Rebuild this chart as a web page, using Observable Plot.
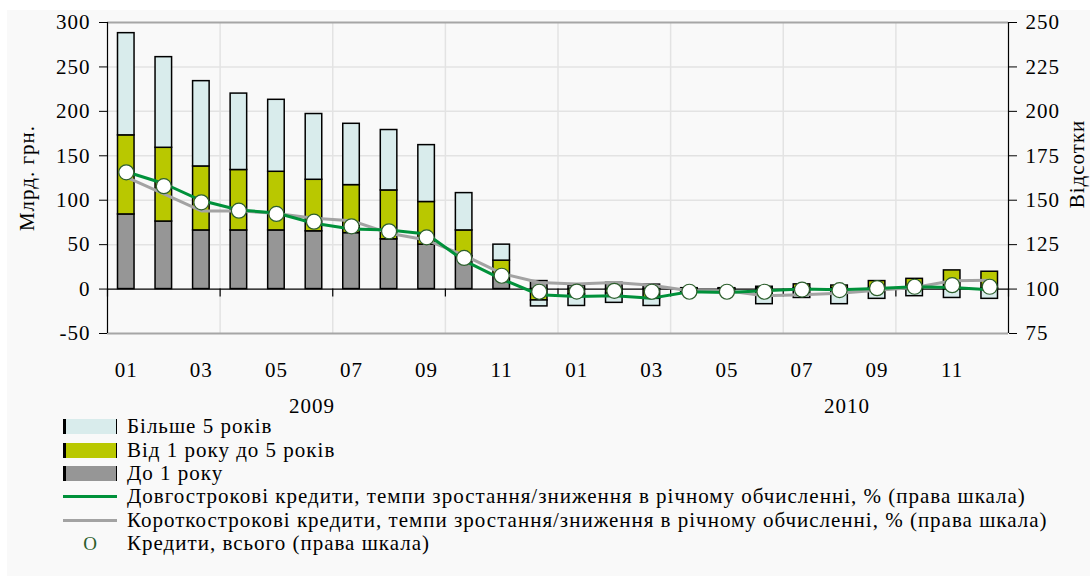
<!DOCTYPE html>
<html><head><meta charset="utf-8">
<script src="https://cdn.jsdelivr.net/npm/d3@7"></script>
<script src="https://cdn.jsdelivr.net/npm/@observablehq/plot@0.6"></script>
<style>
body{margin:0;background:#fff;font-family:"Liberation Serif","Times New Roman",serif;}
#wrap{position:absolute;left:7px;top:10px;width:1083px;height:566px;background:#f9f9f9;overflow:hidden;}
#chart{position:absolute;left:0;top:0;}
#legend{position:absolute;left:56px;top:405px;font-size:21px;letter-spacing:1px;color:#000;}
.row{display:flex;align-items:center;height:23.4px;white-space:nowrap;}
.sw{width:54px;height:23.4px;display:flex;align-items:center;justify-content:center;margin-right:10px;flex:none;}
.box{box-sizing:border-box;width:54px;height:15px;border-left:3px solid #000;border-right:1.5px solid #000;}
.ln{width:54px;height:3px;}
.o{display:block;width:54px;text-align:center;color:#2d5f2d;font-size:19px;letter-spacing:0;}
</style></head><body><div id="wrap"><div id="chart"></div><div id="legend"></div></div>
<script>
const months = ["01","02","03","04","05","06","07","08","09","10","11","12","01","02","03","04","05","06","07","08","09","10","11","12"];
const years = ["2009","2010"];
const seriesNames = ["До 1 року","Від 1 року до 5 років","Більше 5 років"];
const seriesColors = ["#969696","#b9c800","#d9ecec"];
// bars, bln UAH (left scale)
const upTo1 = [84,76,66,66,66,65,63,56,50,37,15,9,4,7,5,1,0.5,1,1,1,1,1,1,1];
const y1to5 = [89,83,72,68,66,58,54,55,48,29,17,-12.8,-6,-5,-11,-1,0.5,1.6,4.3,3,8,10.5,20,18.5];
const over5 = [115,102,96,86,81,74,69,68,64,42,18,-6.7,-13,-10.5,-8,-3,-2,-17,-10,-17,-11,-8,-10,-11];
// lines, % (right scale)
const longTerm  = [166,159.4,149.8,144.5,142.8,137,133.8,133.2,131,116,105.6,96.8,95.8,96.2,94.9,98.5,98.1,99,100,99.6,100.3,101.3,100.9,99.6];
const shortTerm = [163,153.6,144,144,142.6,139.8,138.5,131.4,127.6,119,108.8,103.7,102.8,103.7,102.2,99,99,96.2,96.8,97.7,99.4,100.9,104.7,105];
const total     = [165.7,157.9,148.8,144.1,142.3,137.9,135.3,132.5,129.1,117.5,107.5,98.5,98.6,99,98.5,98.5,98.5,98.5,99.7,99.4,100.5,101.3,102.2,101.3];
const leftTicks = [-50,0,50,100,150,200,250,300];
const rightTicks = [75,100,125,150,175,200,225,250];
const legendLabels = ["Більше 5 років","Від 1 року до 5 років","До 1 року",
  "Довгострокові кредити, темпи зростання/зниження в річному обчисленні, % (права шкала)",
  "Короткострокові кредити, темпи зростання/зниження в річному обчисленні, % (права шкала)",
  "Кредити, всього (права шкала)"];

const toLeft = v => (v - 100) * 2; // right scale 75–250 onto left scale -50–300

const rows = [];
months.forEach((m, i) => {
  [upTo1, y1to5, over5].forEach((arr, k) => rows.push({i, series: seriesNames[k], value: arr[i]}));
});
const pts = months.map((m, i) => ({i, long: longTerm[i], short: shortTerm[i], total: total[i]}));
const yearX = [5.45, 19.7];

const chart = Plot.plot({
  width: 1083, height: 412,
  marginLeft: 100, marginRight: 82, marginTop: 12, marginBottom: 89,
  x: {type: "linear", domain: [0, 24], axis: null},
  y: {domain: [-50, 300], axis: null},
  color: {domain: seriesNames, range: seriesColors},
  style: {fontFamily: "'Liberation Serif','Times New Roman',serif", fontSize: "21px", letterSpacing: "1px", background: "transparent", color: "#000", overflow: "visible"},
  marks: [
    Plot.ruleY([50, 100, 150, 200, 250], {stroke: "#e3e3e3", strokeWidth: 1.5}),
    Plot.ruleX(d3.range(3, 24, 3), {stroke: "#e3e3e3", strokeWidth: 1.5}),
    Plot.ruleY([300, -50], {stroke: "#a6a6a6", strokeWidth: 2}),
    Plot.rectY(rows, Plot.stackY({x1: d => d.i, x2: d => d.i + 1, y: "value", fill: "series",
      stroke: "#000", strokeWidth: 1.5, insetLeft: 10.5, insetRight: 10.5})),
    Plot.ruleY([0], {stroke: "#000", strokeWidth: 1.2}),
    Plot.ruleX(d3.range(0, 25, 3), {y1: 0, y2: -9, stroke: "#000", strokeWidth: 1.2}),
    Plot.ruleX([0, 24], {stroke: "#000", strokeWidth: 1.2}),
    Plot.axisY(leftTicks, {anchor: "left", label: null, tickSize: 8, tickPadding: 9, tickFormat: d => String(d)}),
    Plot.axisY(rightTicks.map(toLeft), {anchor: "right", label: null, tickSize: 8, tickPadding: 9, tickFormat: d => String(d / 2 + 100)}),
    Plot.line(pts, {x: d => d.i + 0.5, y: d => toLeft(d.short), stroke: "#a3a3a3", strokeWidth: 3}),
    Plot.line(pts, {x: d => d.i + 0.5, y: d => toLeft(d.long), stroke: "#00913a", strokeWidth: 3}),
    Plot.dot(pts, {x: d => d.i + 0.5, y: d => toLeft(d.total), r: 7.5, fill: "#fff", stroke: "#2d5f2d", strokeWidth: 1.2}),
    Plot.text(pts.filter(d => d.i % 2 === 0), {x: d => d.i + 0.5, y: -50, text: d => months[d.i], dy: 37, fill: "#000"}),
    Plot.text(years, {x: (d, k) => yearX[k], y: -50, dy: 73, text: d => d, fill: "#000"}),
    Plot.text(["Млрд. грн."], {frameAnchor: "left", textAnchor: "middle", dx: -80, rotate: -90, text: d => d, fill: "#000"}),
    Plot.text(["Відсотки"], {frameAnchor: "right", textAnchor: "middle", dx: 69, dy: -14, rotate: -90, text: d => d, fill: "#000"})
  ]
});
document.getElementById("chart").appendChild(chart);

const legend = document.getElementById("legend");
const swatches = [
  `<span class="box" style="background:${seriesColors[2]}"></span>`,
  `<span class="box" style="background:${seriesColors[1]}"></span>`,
  `<span class="box" style="background:${seriesColors[0]}"></span>`,
  `<span class="ln" style="background:#00913a"></span>`,
  `<span class="ln" style="background:#a3a3a3"></span>`,
  `<span class="o">O</span>`
];
legendLabels.forEach((t, k) => {
  const r = document.createElement("div");
  r.className = "row";
  r.innerHTML = `<span class="sw">${swatches[k]}</span><span>${t}</span>`;
  legend.appendChild(r);
});
</script></body></html>
